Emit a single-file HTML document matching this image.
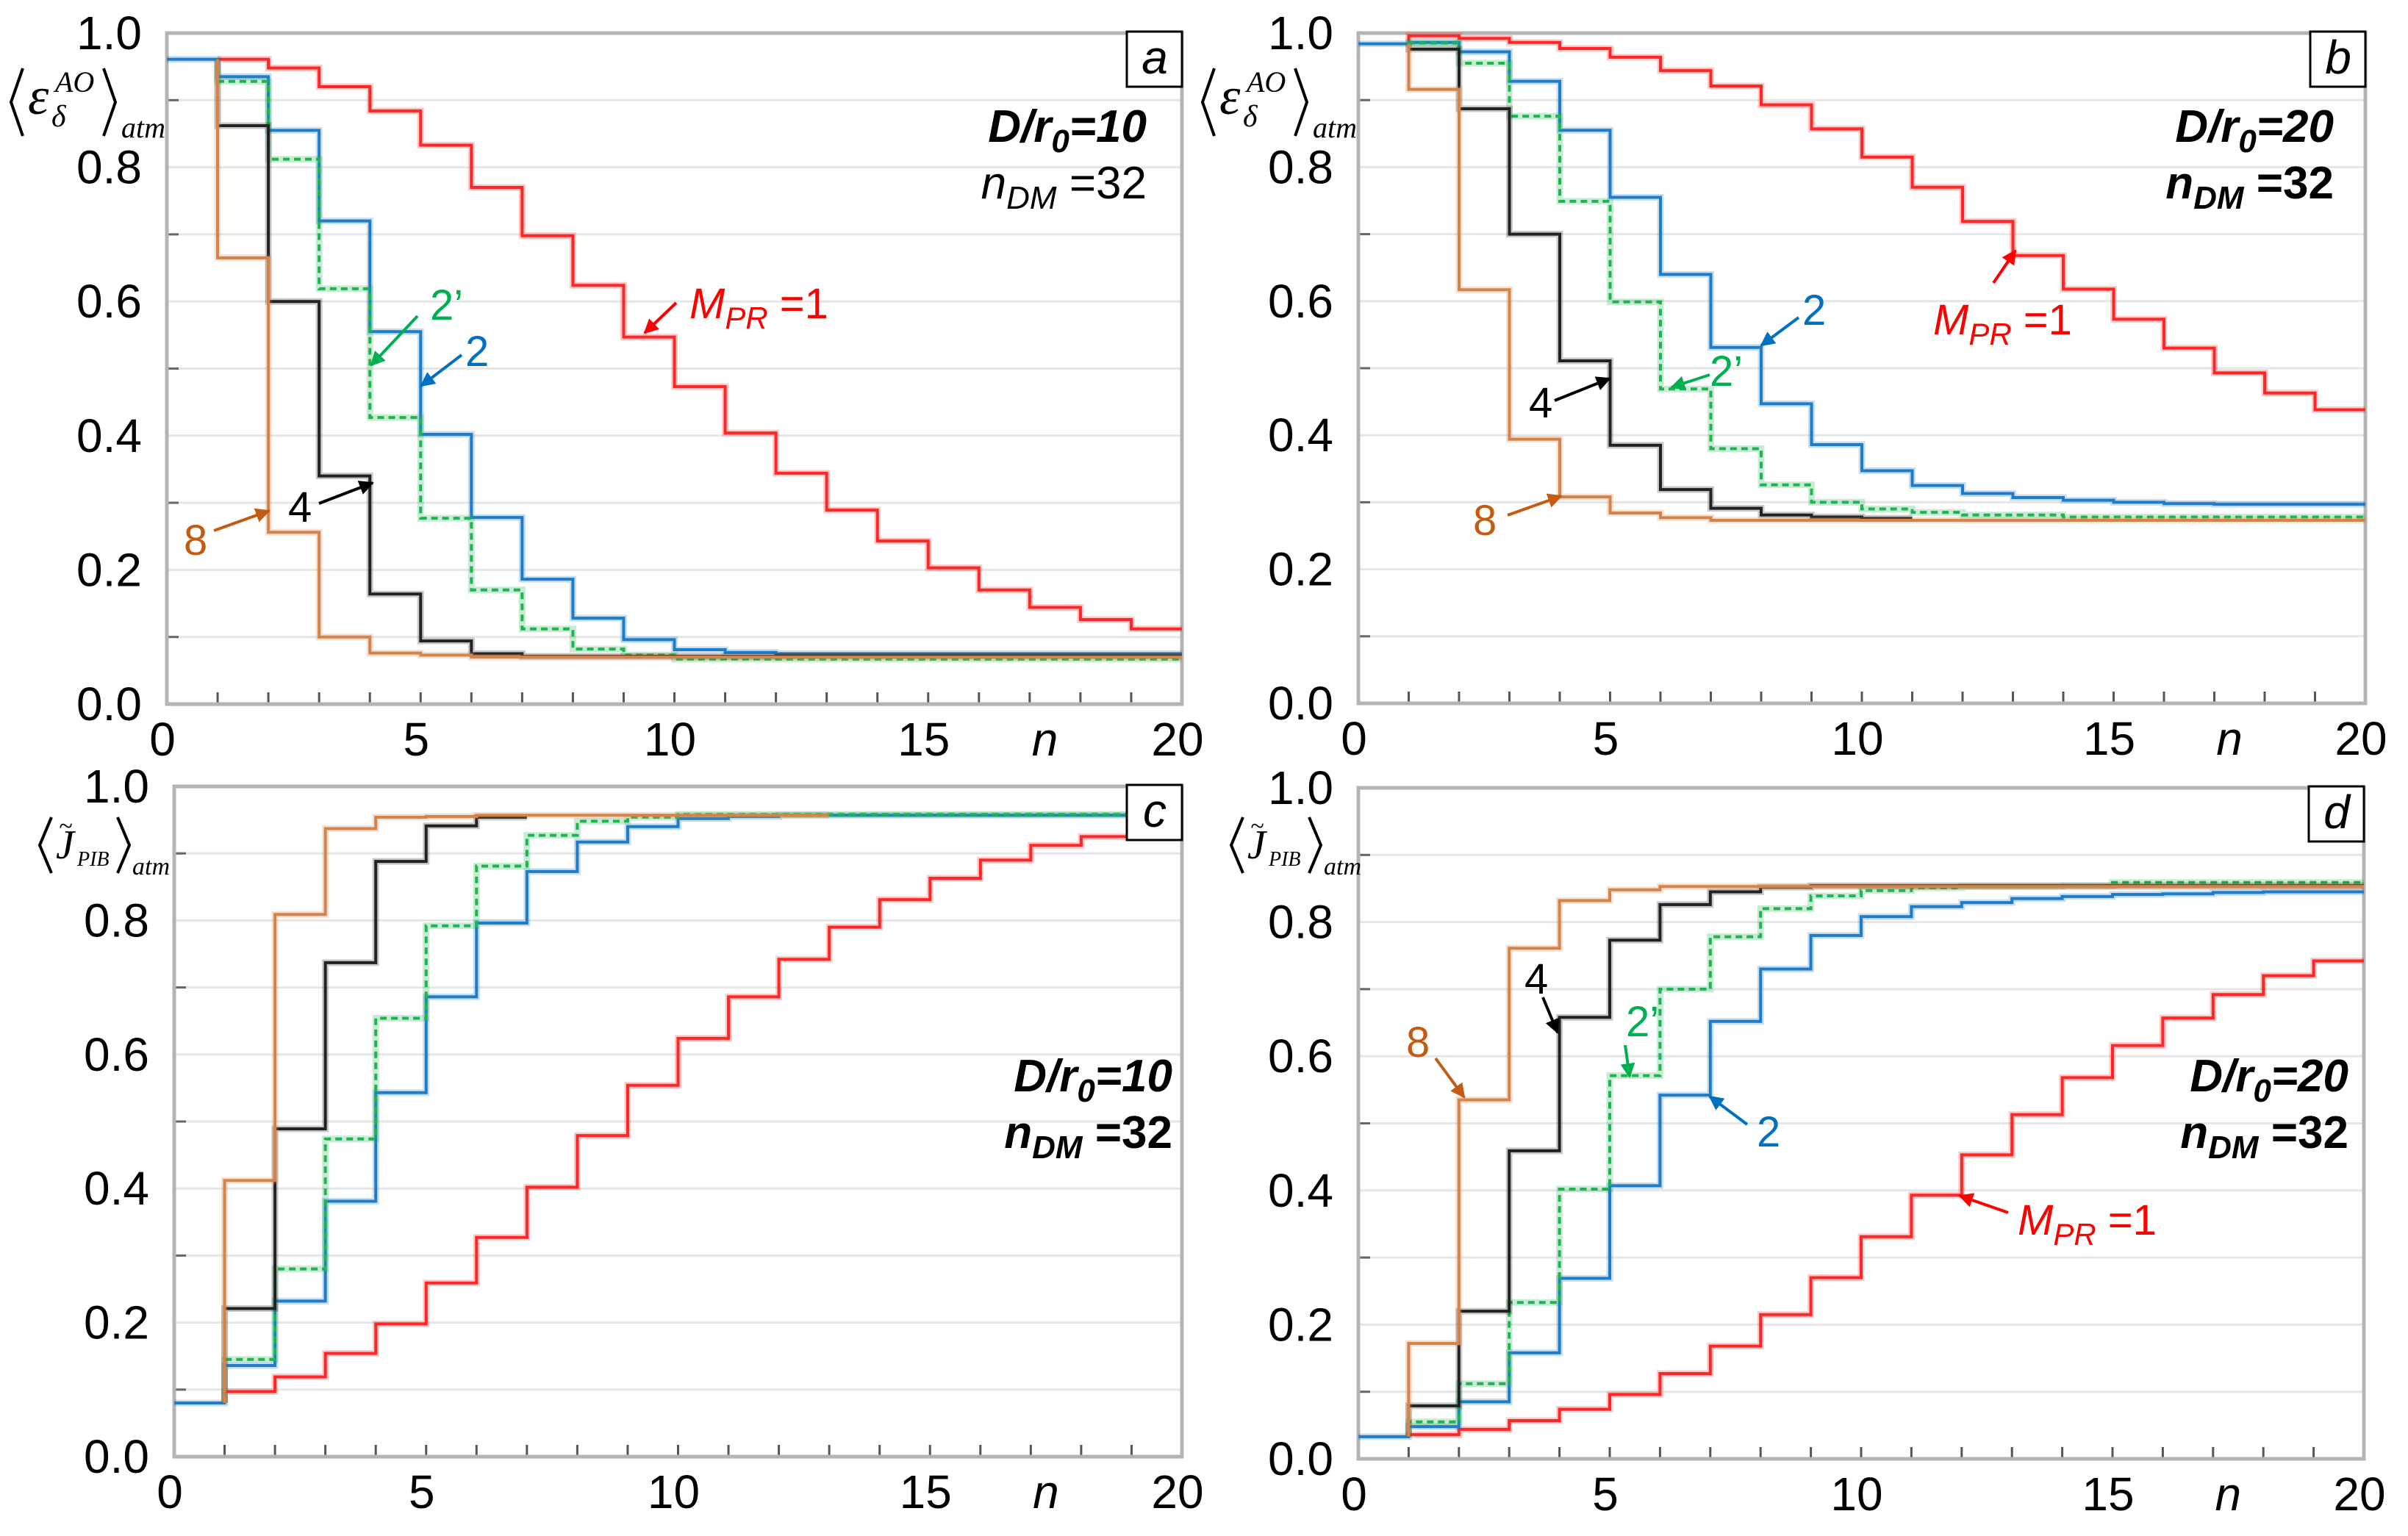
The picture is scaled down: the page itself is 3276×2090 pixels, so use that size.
<!DOCTYPE html>
<html><head><meta charset="utf-8">
<style>
html,body{margin:0;padding:0;background:#fff;}
svg{display:block;}
text{font-family:"Liberation Sans Narrow","Liberation Sans",sans-serif;}
.serif{font-family:"Liberation Serif",serif;font-style:italic;}
</style></head>
<body>
<svg id="fig" width="3276" height="2090" viewBox="0 0 3276 2090" xmlns="http://www.w3.org/2000/svg">
<defs>
<marker id="ah-red" viewBox="0 0 10 10" refX="9" refY="5" markerWidth="5" markerHeight="5" orient="auto"><path d="M0,0 L10,5 L0,10 z" fill="#ff0000"/></marker>
<marker id="ah-blue" viewBox="0 0 10 10" refX="9" refY="5" markerWidth="5" markerHeight="5" orient="auto"><path d="M0,0 L10,5 L0,10 z" fill="#0070c0"/></marker>
<marker id="ah-green" viewBox="0 0 10 10" refX="9" refY="5" markerWidth="5" markerHeight="5" orient="auto"><path d="M0,0 L10,5 L0,10 z" fill="#00b050"/></marker>
<marker id="ah-black" viewBox="0 0 10 10" refX="9" refY="5" markerWidth="5" markerHeight="5" orient="auto"><path d="M0,0 L10,5 L0,10 z" fill="#000"/></marker>
<marker id="ah-orange" viewBox="0 0 10 10" refX="9" refY="5" markerWidth="5" markerHeight="5" orient="auto"><path d="M0,0 L10,5 L0,10 z" fill="#c55a11"/></marker>
</defs>
</svg>
<script>
// ---------- data (value of each step n..n+1) ----------
const nTicks = [0,5,10,15,20];
const yTicks = ["0.0","0.2","0.4","0.6","0.8","1.0"];
// panel a
const aRed    = [0.961,0.948,0.920,0.884,0.833,0.770,0.698,0.624,0.547,0.473,0.404,0.344,0.289,0.243,0.203,0.170,0.144,0.126,0.112];
const aBlue   = [0.961,0.935,0.855,0.720,0.555,0.402,0.278,0.186,0.128,0.096,0.081,0.077,0.075,0.075,0.075,0.075,0.075,0.075,0.075,0.075];
const aGreen  = [0.928,0.812,0.619,0.427,0.277,0.170,0.112,0.082,0.073,0.067,0.067,0.067,0.067,0.067,0.067,0.067,0.067,0.067,0.067];
const aBlack  = [0.862,0.600,0.340,0.164,0.094,0.075,0.071,0.071,0.071,0.071,0.071,0.072,0.072,0.072,0.072,0.072,0.072,0.072,0.072];
const aOrange = [0.665,0.256,0.100,0.076,0.073,0.070,0.070,0.070,0.070,0.070,0.070,0.070,0.070,0.070,0.070,0.070,0.070,0.070,0.070];
// panel b
const bRed    = [0.996,0.992,0.986,0.977,0.964,0.944,0.921,0.893,0.857,0.815,0.770,0.719,0.668,0.618,0.573,0.530,0.493,0.463,0.438];
const bBlue   = [0.984,0.986,0.972,0.928,0.855,0.755,0.640,0.531,0.447,0.386,0.347,0.325,0.313,0.307,0.303,0.300,0.298,0.297,0.297,0.297];
const bGreen  = [0.985,0.955,0.876,0.749,0.599,0.469,0.380,0.326,0.300,0.290,0.285,0.281,0.281,0.278,0.278,0.278,0.278,0.278,0.278];
const bBlack  = [0.976,0.887,0.700,0.511,0.385,0.319,0.291,0.281,0.278,0.276];
const bOrange = [0.916,0.617,0.394,0.308,0.284,0.277,0.273,0.273,0.273,0.273,0.273,0.273,0.273,0.273,0.273,0.273,0.273,0.273,0.273];
// panel c
const cRed    = [0.097,0.119,0.154,0.198,0.259,0.327,0.402,0.479,0.554,0.624,0.686,0.742,0.790,0.831,0.863,0.890,0.912,0.925,0.935];
const cBlue   = [0.080,0.136,0.232,0.381,0.543,0.686,0.796,0.873,0.917,0.940,0.952,0.955,0.957,0.957,0.957,0.957,0.957,0.957,0.957,0.957];
const cGreen  = [0.145,0.280,0.474,0.654,0.792,0.881,0.927,0.948,0.954,0.958,0.958,0.958,0.958,0.958,0.958,0.958,0.958,0.958,0.958];
const cBlack  = [0.221,0.489,0.737,0.888,0.941,0.954];
const cOrange = [0.412,0.809,0.937,0.954,0.955,0.957,0.957,0.957,0.957,0.957,0.957,0.957];
// panel d
const dRed    = [0.036,0.044,0.057,0.074,0.096,0.127,0.168,0.215,0.270,0.331,0.393,0.453,0.513,0.568,0.616,0.657,0.692,0.720,0.742];
const dBlue   = [0.033,0.048,0.085,0.158,0.269,0.407,0.542,0.652,0.730,0.780,0.808,0.823,0.829,0.835,0.838,0.841,0.842,0.844,0.845,0.845];
const dGreen  = [0.055,0.112,0.233,0.402,0.571,0.700,0.778,0.820,0.839,0.847,0.851,0.853,0.853,0.854,0.859,0.859,0.859,0.859,0.859];
const dBlack  = [0.079,0.220,0.459,0.658,0.773,0.826,0.845,0.852,0.854,0.854,0.854,0.854,0.854,0.854,0.854,0.854,0.854,0.854,0.854];
const dOrange = [0.172,0.535,0.761,0.832,0.848,0.853,0.853,0.853,0.853,0.853,0.853,0.853,0.853,0.853,0.853,0.853,0.853,0.853,0.853];

const NS = "http://www.w3.org/2000/svg";
const svg = document.getElementById('fig');
function mk(tag, parent, attrs){
  const e = document.createElementNS(NS, tag);
  for (const k in attrs) e.setAttribute(k, attrs[k]);
  parent.appendChild(e);
  return e;
}
const COL = {red:"#ff2626", blue:"#1e7cc8", green:"#1fb451", black:"#222222", orange:"#d4834a"};

function panel(p){
  const g = mk('g', svg, {});
  
  
  const X = n => p.x0 + (p.x1 - p.x0) * n / 20;
  const Y = v => p.yB - (p.yB - p.yT) * v;
  // gridlines
  for (let i = 1; i <= 9; i++) {
    const gl = mk('line', g, {x1:p.x0, x2:p.x1, y1:Y(i/10), y2:Y(i/10), stroke:"#e6e6e6", "stroke-width":3});
    
    
    if (i % 2 === 1) {
      const tk = mk('line', g, {x1:p.x0, x2:p.x0 + 16, y1:Y(i/10), y2:Y(i/10), stroke:"#666", "stroke-width":3});
      
      
    }
  }
  for (let n = 1; n < 20; n++) {
    const tk = mk('line', g, {x1:X(n), x2:X(n), y1:p.yB, y2:p.yB - 16, stroke:"#555", "stroke-width":3});
    
    
  }
  // frame
  const fr = mk('rect', g, {x:p.x0, y:p.yT, width:p.x1 - p.x0, height:p.yB - p.yT, fill:"none", stroke:"#b4b4b4", "stroke-width":5});
  
  
  // tick labels
  yTicks.forEach((t, i) => {
    const tx = mk('text', g, {x:p.x0 - 34, y:Y(i * 0.2) + 22, "font-size":64, "text-anchor":"end", fill:"#000"});
    tx.textContent = t;
    
    
  });
  nTicks.forEach(n => {
    const tx = mk('text', g, {x:X(n) - 6, y:p.yB + 70, "font-size":64, "text-anchor":"middle", fill:"#000"});
    tx.textContent = String(n);
    
    
  });
  const nl = mk('text', g, {x:X(17.3), y:p.yB + 70, "font-size":64, "font-style":"italic", "text-anchor":"middle", fill:"#000"});
  nl.textContent = "n";
  
  
  // series
  const start = p.series.find(s => s.name === 'blue').vals[0];
  p.series.forEach(s => {
    let d;
    if (s.name === 'blue') {
      d = 'M' + X(0) + ',' + Y(s.vals[0]);
      s.vals.forEach((v, i) => { d += ' V' + Y(v) + ' H' + X(i + 1); });
    } else {
      d = 'M' + X(1) + ',' + Y(start);
      s.vals.forEach((v, i) => { d += ' V' + Y(v) + ' H' + X(i + 2); });
    }
    const halo = mk('path', g, {d:d, fill:"none", stroke:COL[s.name], "stroke-width":9, "stroke-opacity":0.25});
    
    
    const attrs = {d:d, fill:"none", stroke:COL[s.name], "stroke-width":4};
    if (s.name === 'green') attrs["stroke-dasharray"] = "9 6";
    const pa = mk('path', g, attrs);
    
    
  });
  // panel letter box
  const bx = mk('rect', g, {x:p.x1 - 75, y:p.yT - 2, width:75, height:75, fill:"#fff", stroke:"#000", "stroke-width":3});
  
  
  const lt = mk('text', g, {x:p.x1 - 37, y:p.yT + 55, "font-size":64, "font-style":"italic", "text-anchor":"middle", fill:"#000"});
  lt.textContent = p.id;
  
  
  return g;
}

const P = [
 {id:'a', x0:227, x1:1608, yT:45, yB:958, series:[
   {name:'red',label:'mpr1',vals:aRed},{name:'blue',label:'mpr2',vals:aBlue},{name:'green',label:'mpr2prime',vals:aGreen},
   {name:'black',label:'mpr4',vals:aBlack},{name:'orange',label:'mpr8',vals:aOrange}]},
 {id:'b', x0:1848, x1:3218, yT:45, yB:957, series:[
   {name:'red',label:'mpr1',vals:bRed},{name:'blue',label:'mpr2',vals:bBlue},{name:'green',label:'mpr2prime',vals:bGreen},
   {name:'black',label:'mpr4',vals:bBlack},{name:'orange',label:'mpr8',vals:bOrange}]},
 {id:'c', x0:237, x1:1608, yT:1070, yB:1982, series:[
   {name:'red',label:'mpr1',vals:cRed},{name:'blue',label:'mpr2',vals:cBlue},{name:'green',label:'mpr2prime',vals:cGreen},
   {name:'black',label:'mpr4',vals:cBlack},{name:'orange',label:'mpr8',vals:cOrange}]},
 {id:'d', x0:1848, x1:3216, yT:1072, yB:1985, series:[
   {name:'red',label:'mpr1',vals:dRed},{name:'blue',label:'mpr2',vals:dBlue},{name:'green',label:'mpr2prime',vals:dGreen},
   {name:'black',label:'mpr4',vals:dBlack},{name:'orange',label:'mpr8',vals:dOrange}]}
];
const G = P.map(panel);

// ---------- y-axis titles ----------
function bracket(g, x, y1, y2, dir){
  const m = (y1 + y2) / 2;
  const w = 16 * dir;
  const b = mk('polyline', g, {points:(x + w) + ',' + y1 + ' ' + x + ',' + m + ' ' + (x + w) + ',' + y2, fill:"none", stroke:"#000", "stroke-width":4});
  
  
}
function txt(g, x, y, s, size, cls, name, fill, weight, anchor){
  const t = mk('text', g, {x:x, y:y, "font-size":size, fill:fill || "#000"});
  if (cls) t.setAttribute('class', cls);
  if (weight) t.setAttribute('font-weight', weight);
  if (anchor) t.setAttribute('text-anchor', anchor);
  t.textContent = s;
  
  
  return t;
}
function epsTitle(g, ox){
  bracket(g, ox + 15, 93, 185, 1);
  txt(g, ox + 38, 155, "ε", 72, "serif", "y-axis-title");
  txt(g, ox + 75, 125, "AO", 40, "serif", "y-axis-title-sup");
  txt(g, ox + 70, 172, "δ", 42, "serif", "y-axis-title-sub");
  bracket(g, ox + 157, 93, 185, -1);
  txt(g, ox + 165, 187, "atm", 40, "serif", "y-axis-title-sub");
}
function jTitle(g, ox, oy){
  bracket(g, ox + 54, oy + 67, oy + 143, 1);
  txt(g, ox + 76, oy + 123, "J", 56, "serif", "y-axis-title");
  txt(g, ox + 80, oy + 90, "~", 34, "serif", "y-axis-title-tilde");
  txt(g, ox + 105, oy + 133, "PIB", 28, "serif", "y-axis-title-sub");
  bracket(g, ox + 176, oy + 67, oy + 143, -1);
  txt(g, ox + 180, oy + 145, "atm", 34, "serif", "y-axis-title-sub");
}
epsTitle(G[0], 0);
epsTitle(G[1], 1621);
jTitle(G[2], 0, 1045);
jTitle(G[3], 1621, 1045);

// ---------- parameter text ----------
function param(g, x, y, big, bold){
  const t1 = mk('text', g, {x:x, y:y, "font-size":62, "font-style":"italic", "font-weight":"bold", "text-anchor":"end", fill:"#000"});
  t1.innerHTML = 'D/r<tspan font-size="44" dy="14">0</tspan><tspan dy="-14">=' + big + '</tspan>';
  
  
  const t2 = mk('text', g, {x:x, y:y + 77, "font-size":62, "font-style":"italic", "font-weight":bold ? "bold" : "normal", "text-anchor":"end", fill:"#000"});
  t2.innerHTML = 'n<tspan font-size="44" dy="14">DM</tspan><tspan dy="-14" font-style="normal"> =32</tspan>';
  
  
}
param(G[0], 1560, 193, 10, false);
param(G[1], 3175, 193, 20, true);
param(G[2], 1595, 1485, 10, true);
param(G[3], 3195, 1485, 20, true);

// ---------- annotations ----------
const AC = {red:"#ff0000", blue:"#0070c0", green:"#00b050", black:"#000", orange:"#c55a11"};
function ann(g, color, label, tx, ty, ax1, ay1, ax2, ay2, mpr){
  const l = mk('line', g, {x1:ax1, y1:ay1, x2:ax2, y2:ay2, stroke:AC[color], "stroke-width":4, "marker-end":"url(#ah-" + color + ")"});
  
  
  const t = mk('text', g, {x:tx, y:ty, "font-size":58, fill:AC[color]});
  if (mpr) {
    t.innerHTML = '<tspan font-style="italic">M</tspan><tspan font-style="italic" font-size="42" dy="14">PR</tspan><tspan dy="-14"> =1</tspan>';
  } else {
    t.textContent = label;
  }
  
  
}
// a
ann(G[0], 'red', '', 938, 433, 920, 412, 877, 453, true);
ann(G[0], 'green', '2’', 585, 435, 568, 430, 505, 497);
ann(G[0], 'blue', '2', 633, 498, 628, 483, 573, 525);
ann(G[0], 'black', '4', 392, 710, 434, 685, 507, 657);
ann(G[0], 'orange', '8', 250, 755, 291, 722, 366, 695);
// b
ann(G[1], 'red', '', 2630, 455, 2712, 385, 2742, 341, true);
ann(G[1], 'blue', '2', 2452, 442, 2447, 432, 2396, 470);
ann(G[1], 'green', '2’', 2326, 525, 2326, 510, 2274, 527);
ann(G[1], 'black', '4', 2080, 568, 2115, 545, 2190, 515);
ann(G[1], 'orange', '8', 2004, 728, 2051, 701, 2124, 675);
// d
ann(G[3], 'orange', '8', 1913, 1438, 1953, 1440, 1992, 1493);
ann(G[3], 'black', '4', 2074, 1352, 2099, 1357, 2119, 1405);
ann(G[3], 'green', '2’', 2212, 1410, 2211, 1422, 2217, 1465);
ann(G[3], 'blue', '2', 2390, 1560, 2377, 1530, 2326, 1492);
ann(G[3], 'red', '', 2745, 1680, 2732, 1650, 2666, 1627, true);
</script>
</body></html>
